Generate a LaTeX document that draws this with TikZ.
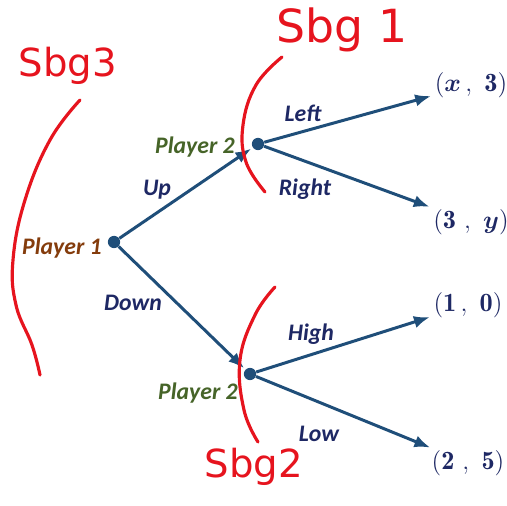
\documentclass[tikz,border=0pt]{standalone}
\usepackage{amsmath,amssymb}
\usepackage{fontspec}
\setsansfont{Carlito}
\newfontfamily\manoescrita{DejaVu Sans}
\usepackage{xcolor}
\usetikzlibrary{arrows.meta}
\definecolor{AzulRama}{RGB}{31,78,121}
\definecolor{AzulTexto}{RGB}{30,40,100}
\definecolor{CafeJugador}{RGB}{132,60,12}
\definecolor{VerdeJugador}{RGB}{70,100,40}
\definecolor{RojoMarca}{RGB}{230,20,30}

\begin{document}
\begin{tikzpicture}[>={Latex[length=9pt,width=7pt]},x=0.02cm,y=-0.02cm,
  nodo/.style={circle,fill=AzulRama,inner sep=0pt,minimum size=7pt},
  rama/.style={->,line width=1.7pt,AzulRama,shorten >=1pt},
  accion/.style={font=\sffamily\bfseries\itshape\fontsize{13.5}{15}\selectfont,text=AzulTexto},
  jugador/.style={font=\sffamily\bfseries\itshape\fontsize{13.5}{15}\selectfont},
  pago/.style={font=\fontsize{15}{17}\selectfont,text=AzulTexto,inner sep=1pt},
  marca/.style={RojoMarca,line width=1.8pt,line cap=round},
  nota/.style={font=\manoescrita\fontsize{26}{28}\selectfont,text=RojoMarca}]
  \useasboundingbox (0,0) rectangle (507,506);
  % nodos de decision
  \node[nodo] (J1) at (114,242) {};
  \node[nodo] (J2a) at (258,144) {};
  \node[nodo] (J2b) at (250,374) {};
  \node[jugador,text=CafeJugador] (N1) at (62,248) {Player 1};
  \node[jugador,text=VerdeJugador] (N2a) at (195,147) {Player 2};
  \node[jugador,text=VerdeJugador] (N2b) at (198,393) {Player 2};
  % pagos
  \node[pago] (P1) at (471,85) {$(\boldsymbol{x}\,,\ \mathbf{3})$};
  \node[pago] (P2) at (471,222) {$(\mathbf{3}\ ,\ \boldsymbol{y})$};
  \node[pago] (P3) at (468,305) {$(\mathbf{1}\,,\ \mathbf{0})$};
  \node[pago] (P4) at (468,463) {$(\mathbf{2}\ ,\ \mathbf{5})$};
  % ramas
  \draw[rama] (J1) -- (J2a);
  \draw[rama] (J1) -- (J2b);
  \draw[rama] (J2a) -- (P1);
  \draw[rama] (J2a) -- (P2);
  \draw[rama] (J2b) -- (P3);
  \draw[rama] (J2b) -- (P4);
  \node[accion] (Up) at (157,190) {Up};
  \node[accion] (Down) at (133,303) {Down};
  \node[accion] (Left) at (303,113) {Left};
  \node[accion] (Right) at (305,189) {Right};
  \node[accion] (High) at (311,334) {High};
  \node[accion] (Low) at (319,434) {Low};
  % subjuegos
  \draw[marca] plot[smooth,tension=0.7] coordinates {(80,100) (50,140) (25,200) (13,260) (16,305) (32,345) (40,375)};
  \draw[marca] plot[smooth,tension=0.7] coordinates {(282,57) (256,85) (243,125) (246,162) (265,192)};
  \draw[marca] plot[smooth,tension=0.7] coordinates {(275,287) (255,315) (240,360) (244,410) (258,442)};
  \node[nota] (S1) at (342,30) {Sbg 1};
  \node[nota,font=\manoescrita\fontsize{22}{24}\selectfont] (S3) at (68,66) {Sbg3};
  \node[nota,font=\manoescrita\fontsize{22}{24}\selectfont] (S2) at (254,467) {Sbg2};
\end{tikzpicture}
\end{document}
